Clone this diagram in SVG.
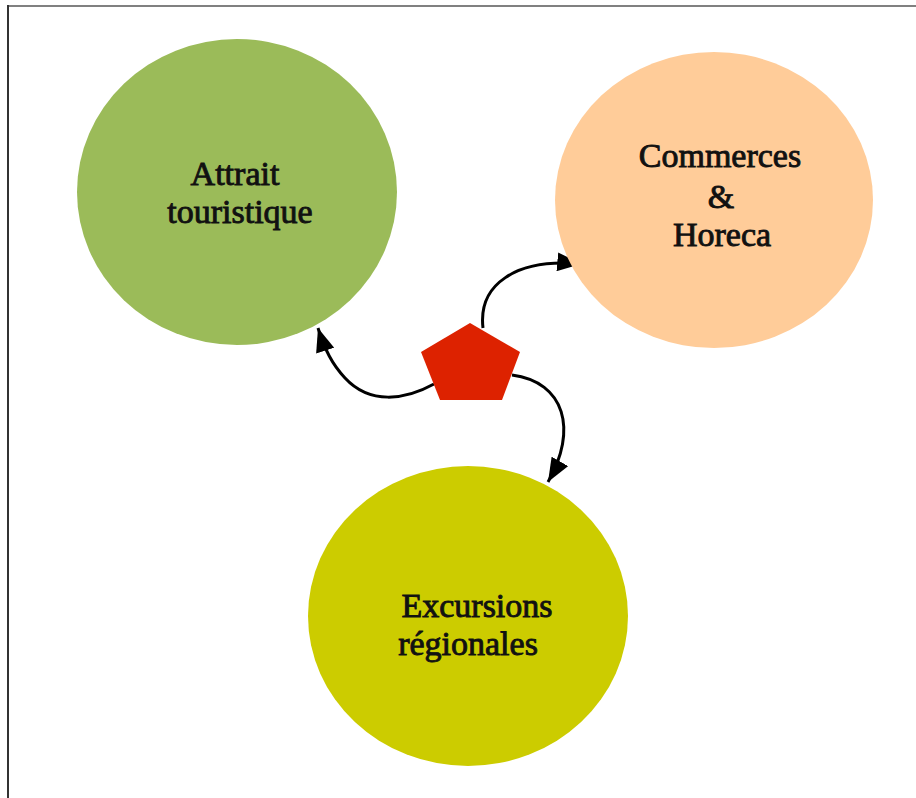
<svg xmlns="http://www.w3.org/2000/svg" width="916" height="798" viewBox="0 0 916 798">
<defs>
<style>
.lbl{font-family:"Liberation Serif","Times New Roman",serif;font-size:34px;fill:#111;stroke:#111;stroke-width:0.9;text-anchor:middle}
.conn{fill:none;stroke:#000;stroke-width:3}
</style>
<marker id="ah" viewBox="0 0 20 16" refX="20" refY="8" markerWidth="24" markerHeight="19" markerUnits="userSpaceOnUse" orient="auto">
<path d="M0,0 L20,8 L0,16 z" fill="#000"/>
</marker>
</defs>
<rect x="0" y="0" width="916" height="798" fill="#fff"/>
<line x1="8" y1="6" x2="916" y2="6" stroke="#808080" stroke-width="2"/>
<line x1="8" y1="5" x2="8" y2="798" stroke="#333" stroke-width="2"/>
<g id="connectors">
<path class="conn" d="M434,384 C405,400 370,405 345,378 C332,364 325,350 318,328" marker-end="url(#ah)"/>
<path class="conn" d="M483,328 C478,285 515,258 581,264" marker-end="url(#ah)"/>
<path class="conn" d="M512,375 C565,382 578,430 548,482" marker-end="url(#ah)"/>
</g>
<g id="attrait">
<ellipse cx="237" cy="192" rx="160" ry="153" fill="#9BBB59"/>
<text class="lbl" x="235" y="185">Attrait</text>
<text class="lbl" x="240" y="223">touristique</text>
</g>
<g id="commerces">
<ellipse cx="714" cy="200" rx="159" ry="148" fill="#FFCC99"/>
<text class="lbl" x="720" y="167">Commerces</text>
<text class="lbl" x="721" y="208">&amp;</text>
<text class="lbl" x="722" y="246">Horeca</text>
</g>
<g id="excursions">
<ellipse cx="468" cy="616" rx="160" ry="150" fill="#CCCC00"/>
<text class="lbl" x="477" y="617">Excursions</text>
<text class="lbl" x="468" y="655">régionales</text>
</g>
<g id="hub">
<polygon points="470,323 520,352 502,400 440,400 421,352" fill="#DD2200"/>
</g>
</svg>
